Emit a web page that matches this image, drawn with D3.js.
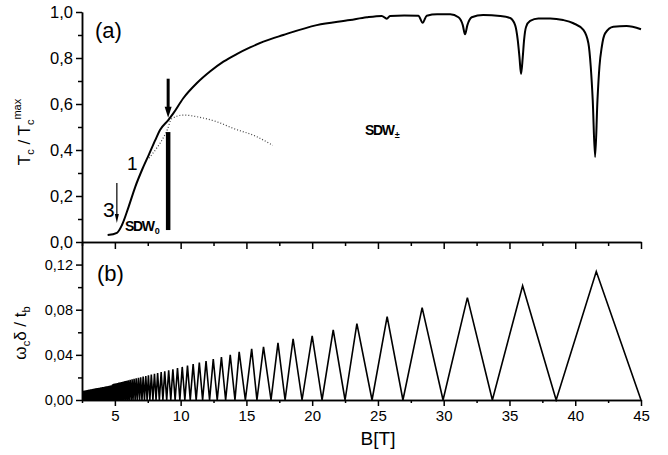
<!DOCTYPE html>
<html>
<head>
<meta charset="utf-8">
<script src="https://cdn.jsdelivr.net/npm/d3@7"></script>
<style>
  body { margin: 0; background: #fff; }
  svg text { font-family: "Liberation Sans", Arial, sans-serif; fill: #000; }
  .axis path, .axis line { stroke: #000; stroke-width: 1.5; }
</style>
</head>
<body>
<div id="chart"></div>
<script>
// panel (a): Tc / Tc^max versus B, solid curve and dotted branch
const tcCurve = [
  [4.45, 0.03], [5.16, 0.04], [5.54, 0.074], [6.05, 0.154], [6.55, 0.24], [7.06, 0.313],
  [7.57, 0.378], [8.07, 0.443], [8.43, 0.487], [9.06, 0.53], [9.44, 0.559], [10.2, 0.625],
  [11.22, 0.69], [12.23, 0.741], [13.25, 0.784], [14.26, 0.817], [15.28, 0.846],
  [16.29, 0.871], [17.8, 0.9], [20.35, 0.943], [22.88, 0.965], [24.15, 0.977], [25.29, 0.983],
  [25.67, 0.971], [25.92, 0.983], [27.0, 0.985], [28.07, 0.984], [28.4, 0.953],
  [28.71, 0.984], [29.5, 0.99], [30.5, 0.99], [31.12, 0.977], [31.45, 0.943],
  [31.62, 0.903], [31.8, 0.943], [32.13, 0.977], [33.0, 0.987], [34.3, 0.983],
  [35.05, 0.974], [35.43, 0.943], [35.63, 0.878], [35.76, 0.804], [35.88, 0.73],
  [36.01, 0.804], [36.11, 0.878], [36.26, 0.935], [36.57, 0.961], [37.2, 0.972],
  [38.1, 0.972], [39.08, 0.965], [39.86, 0.951], [40.62, 0.922], [41.0, 0.864],
  [41.18, 0.762], [41.33, 0.617], [41.51, 0.37], [41.69, 0.617], [41.84, 0.762],
  [42.02, 0.849], [42.27, 0.907], [42.9, 0.936], [43.9, 0.939], [45.0, 0.925]
];
const tcDotted = [
  [7.6, 0.365], [8.2, 0.41], [8.7, 0.455], [9.0, 0.49], [9.3, 0.535], [10.2, 0.552],
  [11.47, 0.542], [12.74, 0.523], [14.0, 0.494], [15.78, 0.458], [17.0, 0.42]
];

// panel (b): sawtooth, zeros and peaks
const sawMinB = [
  45.0, 38.55, 33.7, 29.95, 26.9, 24.55, 22.5, 20.75, 19.23, 17.94, 16.87, 15.8,
  14.92, 14.13, 13.42, 12.78, 12.2, 11.67, 11.18, 10.73, 10.32, 9.94, 9.58, 9.25,
  8.94, 8.65, 8.38, 8.13, 7.89, 7.66, 7.45, 7.25, 7.06, 6.88, 6.7, 6.54, 6.38, 6.24,
  6.09, 5.96, 5.83, 5.7, 5.59, 5.47, 5.36, 5.26, 5.16, 5.06, 4.96, 4.87, 4.79, 4.7,
  4.62, 4.54, 4.47, 4.39, 4.32, 4.25, 4.19, 4.12, 4.06, 4.0, 3.94, 3.88, 3.83, 3.77,
  3.72, 3.67, 3.62, 3.57, 3.53, 3.48, 3.44, 3.39, 3.35, 3.31, 3.27, 3.23, 3.19, 3.15,
  3.12, 3.08, 3.04, 3.01, 2.98, 2.94, 2.91, 2.88, 2.85, 2.82, 2.79, 2.76, 2.73, 2.71,
  2.68, 2.65, 2.63, 2.6, 2.58, 2.55, 2.53, 2.5
];
const sawPeakB = [
  41.6, 36.0, 31.8, 28.36, 25.7, 23.4, 21.6, 20.0, 18.55, 17.4, 16.3, 15.4,
  14.45, 13.77, 13.1, 12.48, 11.93, 11.42, 10.95, 10.52, 10.12, 9.76, 9.41, 9.09,
  8.79, 8.52, 8.25, 8.01, 7.77, 7.55, 7.35, 7.15, 6.96, 6.79, 6.62, 6.46, 6.31, 6.16,
  6.02, 5.89, 5.77, 5.64, 5.53, 5.42, 5.31, 5.21, 5.11, 5.01, 4.92, 4.83, 4.74, 4.66,
  4.58, 4.5, 4.43, 4.36, 4.29, 4.22, 4.16, 4.09, 4.03, 3.97, 3.91, 3.86, 3.8, 3.75,
  3.7, 3.65, 3.6, 3.55, 3.5, 3.46, 3.41, 3.37, 3.33, 3.29, 3.25, 3.21, 3.17, 3.13,
  3.1, 3.06, 3.03, 2.99, 2.96, 2.93, 2.9, 2.87, 2.84, 2.81, 2.78, 2.75, 2.72, 2.69,
  2.67, 2.64, 2.61, 2.59, 2.56, 2.54, 2.52
];
const sawPeakV = [
  0.1138, 0.1013, 0.0907, 0.0818, 0.0738, 0.0676, 0.0622, 0.0569, 0.0542, 0.0507, 0.0471, 0.0453,
  0.0427, 0.04, 0.038, 0.0362, 0.0346, 0.0331, 0.0318, 0.0305, 0.0293, 0.0283, 0.0273, 0.0264,
  0.0255, 0.0247, 0.0239, 0.0232, 0.0225, 0.0219, 0.0213, 0.0207, 0.0202, 0.0197, 0.0192, 0.0187,
  0.0183, 0.0179, 0.0175, 0.0171, 0.0167, 0.0164, 0.016, 0.0157, 0.0154, 0.0151, 0.0148, 0.0145,
  0.0143, 0.014, 0.013, 0.0128, 0.0126, 0.0124, 0.0122, 0.0121, 0.0119, 0.0118, 0.0116, 0.0114,
  0.0113, 0.0112, 0.011, 0.0109, 0.0108, 0.0107, 0.0106, 0.0105, 0.0104, 0.0103, 0.0102, 0.0101,
  0.01, 0.0099, 0.0098, 0.0097, 0.0096, 0.0095, 0.0094, 0.0093, 0.0093, 0.0092, 0.0091, 0.009,
  0.0089, 0.0088, 0.0088, 0.0087, 0.0086, 0.0086, 0.0085, 0.0084, 0.0084, 0.0083, 0.0082, 0.0082,
  0.0081, 0.008, 0.008, 0.0079, 0.0079
];

// ticks
const xTicks = [5, 10, 15, 20, 25, 30, 35, 40, 45];
const xMinor = [2.5, 7.5, 12.5, 17.5, 22.5, 27.5, 32.5, 37.5, 42.5];
const aTicks = [0, 0.2, 0.4, 0.6, 0.8, 1.0];
const aMinor = [0.1, 0.3, 0.5, 0.7, 0.9];
const bTicks = [0, 0.04, 0.08, 0.12];
const bMinor = [0.02, 0.06, 0.1];

// annotations in data units
const bigArrow = { b: 9.05, from: 0.71, to: 0.54 };
const bigBar = { b: 9.05, from: 0.478, to: 0.052 };
const thinArrow = { b: 5.15, from: 0.257, to: 0.083 };

const W = 668, H = 455;
const svg = d3.select("#chart").append("svg").attr("width", W).attr("height", H);

const x = d3.scaleLinear().domain([2.5, 45]).range([82, 641]);
const yA = d3.scaleLinear().domain([0, 1]).range([242, 12]);
const yB = d3.scaleLinear().domain([0, 0.14]).range([400, 242]);

const comma = (f) => (d) => d3.format(f)(d).replace(".", ",");

svg.append("clipPath").attr("id", "plotclip")
  .append("rect").attr("x", 82).attr("y", 0).attr("width", 560).attr("height", 402);

// ---- panel (a) axes
const aAxis = svg.append("g").attr("class", "axis").attr("transform", "translate(82,0)")
  .call(d3.axisLeft(yA).tickValues(aTicks).tickFormat(comma(".1f")).tickSize(6).tickSizeOuter(0).tickPadding(3));
aAxis.selectAll("text").style("font-size", "16.5px");
svg.append("g").attr("class", "axis").attr("transform", "translate(82,0)")
  .call(d3.axisLeft(yA).tickValues(aMinor).tickFormat("").tickSize(4).tickSizeOuter(0));

svg.append("g").attr("class", "axis").attr("transform", "translate(0,242)")
  .call(d3.axisBottom(x).tickValues(xTicks).tickFormat("").tickSize(7).tickSizeOuter(0));
svg.append("g").attr("class", "axis").attr("transform", "translate(0,242)")
  .call(d3.axisBottom(x).tickValues(xMinor).tickFormat("").tickSize(4).tickSizeOuter(0));

// ---- panel (b) axes
const bAxis = svg.append("g").attr("class", "axis").attr("transform", "translate(82,0)")
  .call(d3.axisLeft(yB).tickValues(bTicks).tickFormat(comma(".2f")).tickSize(6).tickSizeOuter(0).tickPadding(3));
bAxis.selectAll("text").style("font-size", "14.5px");
svg.append("g").attr("class", "axis").attr("transform", "translate(82,0)")
  .call(d3.axisLeft(yB).tickValues(bMinor).tickFormat("").tickSize(4).tickSizeOuter(0));

const xAxis = svg.append("g").attr("class", "axis").attr("transform", "translate(0,400)")
  .call(d3.axisBottom(x).tickValues(xTicks).tickFormat(d3.format("d")).tickSize(6).tickSizeOuter(0).tickPadding(4));
xAxis.selectAll("text").style("font-size", "15px");
svg.append("g").attr("class", "axis").attr("transform", "translate(0,400)")
  .call(d3.axisBottom(x).tickValues(xMinor).tickFormat("").tickSize(3).tickSizeOuter(0));

// ---- curves
const lineA = d3.line().x((d) => x(d[0])).y((d) => yA(d[1])).curve(d3.curveMonotoneX);
svg.append("path").datum(tcDotted).attr("d", lineA)
  .attr("fill", "none").attr("stroke", "#444").attr("stroke-width", 1.2).attr("stroke-dasharray", "1,2");
svg.append("path").datum(tcCurve).attr("d", lineA)
  .attr("fill", "none").attr("stroke", "#000").attr("stroke-width", 2);

const saw = [];
sawPeakB.forEach((b, i) => {
  saw.push([sawMinB[i], 0]);
  saw.push([b, sawPeakV[i]]);
});
saw.push([sawMinB[sawMinB.length - 1], 0]);
const lineB = d3.line().x((d) => x(d[0])).y((d) => yB(d[1]));
svg.append("path").datum(saw).attr("d", lineB).attr("clip-path", "url(#plotclip)")
  .attr("fill", "none").attr("stroke", "#000").attr("stroke-width", 1.6).attr("stroke-linejoin", "miter");

// ---- arrows and bar
function arrow(a, shaft, headW, headL) {
  const px = x(a.b), y0 = yA(a.from), y1 = yA(a.to);
  svg.append("line").attr("x1", px).attr("x2", px).attr("y1", y0).attr("y2", y1 - headL + 1)
    .attr("stroke", "#000").attr("stroke-width", shaft);
  svg.append("path")
    .attr("d", `M${px - headW / 2},${y1 - headL}L${px + headW / 2},${y1 - headL}L${px},${y1}Z`)
    .attr("fill", "#000");
}
arrow(bigArrow, 3, 7, 11);
arrow(thinArrow, 1.2, 4, 9);
svg.append("line").attr("x1", x(bigBar.b)).attr("x2", x(bigBar.b))
  .attr("y1", yA(bigBar.from)).attr("y2", yA(bigBar.to))
  .attr("stroke", "#000").attr("stroke-width", 4.5);

// ---- labels
svg.append("text").attr("x", 95).attr("y", 38).style("font-size", "22px").text("(a)");
svg.append("text").attr("x", 97).attr("y", 281).style("font-size", "22px").text("(b)");
svg.append("text").attr("x", 127).attr("y", 170).style("font-size", "19px").text("1");
svg.append("text").attr("x", 103).attr("y", 217).style("font-size", "21px").text("3");

function sdw(px, py, sub) {
  const t = svg.append("text").attr("x", px).attr("y", py)
    .style("font-size", "14px").style("font-weight", "bold").style("letter-spacing", "-1.3px");
  t.append("tspan").text("SDW");
  t.append("tspan").attr("dy", 3).attr("dx", 1).style("font-size", "9px").style("letter-spacing", "0px").text(sub);
}
sdw(125, 231, "0");
sdw(365, 135, "\u00b1");

svg.append("text").attr("x", 378).attr("y", 445).attr("text-anchor", "middle")
  .style("font-size", "19px").text("B[T]");

const labA = svg.append("text").attr("transform", "translate(30,132) rotate(-90)")
  .attr("text-anchor", "middle").style("font-size", "17px");
labA.append("tspan").text("T");
labA.append("tspan").attr("dy", 4).style("font-size", "11px").text("c");
labA.append("tspan").attr("dy", -4).text(" / T");
labA.append("tspan").attr("dy", 4).style("font-size", "11px").text("c");
labA.append("tspan").attr("dy", -13).style("font-size", "11px").text("max");

const labB = svg.append("text").attr("transform", "translate(26,333) rotate(-90)")
  .attr("text-anchor", "middle").style("font-size", "17px");
labB.append("tspan").text("\u03c9");
labB.append("tspan").attr("dy", 4).style("font-size", "11px").text("c");
labB.append("tspan").attr("dy", -4).text("\u03b4 / t");
labB.append("tspan").attr("dy", 4).style("font-size", "11px").text("b");
</script>
</body>
</html>
